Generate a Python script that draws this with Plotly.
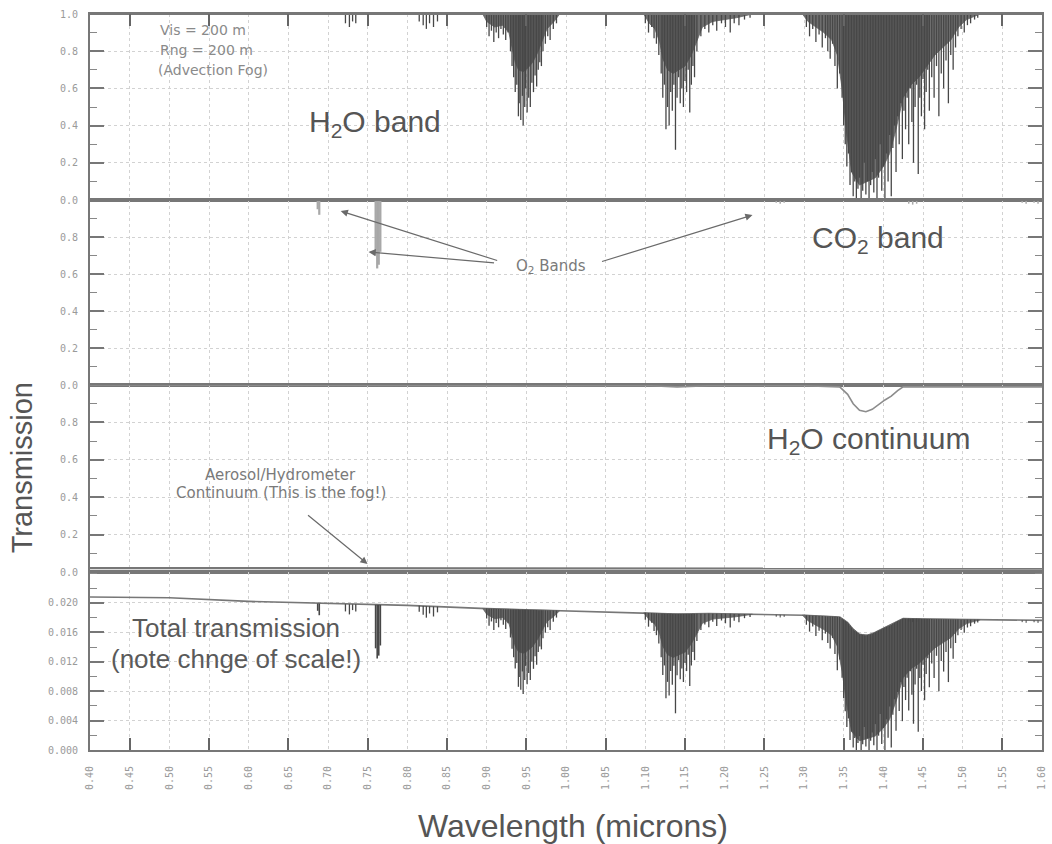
import numpy as np
import plotly.graph_objects as go

# ---------------- data ----------------
# x axis tick labels (wavelength, microns)
x_tick_vals = [round(0.40 + 0.05 * i, 2) for i in range(25)]
x_tick_text = [f"{v:.2f}" for v in x_tick_vals]
x_major_marks = [0.45, 0.55, 0.65, 0.75, 0.85, 0.95, 1.05, 1.15, 1.25, 1.35, 1.45, 1.55]

# H2O band absorption lines: centre wavelength (um) and line-core transmission
h2o_line_um = [
    0.722, 0.727, 0.731, 0.735,
    0.815, 0.820, 0.824, 0.828, 0.833, 0.838,
    0.900, 0.903, 0.906, 0.909, 0.912, 0.915, 0.918, 0.921, 0.924, 0.927,
    0.930, 0.932, 0.934, 0.936, 0.938, 0.940, 0.941, 0.943, 0.945, 0.946,
    0.948, 0.949, 0.951, 0.953, 0.955, 0.957, 0.959, 0.961, 0.963, 0.965,
    0.967, 0.969, 0.971, 0.974, 0.977, 0.980, 0.984, 0.988,
    1.100, 1.104, 1.108, 1.111, 1.114, 1.117, 1.120, 1.122, 1.124, 1.126,
    1.128, 1.130, 1.132, 1.134, 1.136, 1.138, 1.140, 1.142, 1.144, 1.146,
    1.148, 1.150, 1.152, 1.154, 1.156, 1.158, 1.160, 1.162, 1.165, 1.170,
    1.175, 1.180, 1.185, 1.190, 1.196, 1.201, 1.207, 1.212, 1.218, 1.225, 1.232,
    1.303, 1.307, 1.311, 1.315, 1.319, 1.323, 1.327, 1.330, 1.333, 1.336,
    1.339, 1.342, 1.345, 1.348, 1.350, 1.352, 1.354, 1.356, 1.358, 1.360,
    1.362, 1.364, 1.366, 1.368, 1.370, 1.372, 1.374, 1.376, 1.378, 1.380,
    1.382, 1.384, 1.386, 1.388, 1.390, 1.392, 1.394, 1.396, 1.398, 1.400,
    1.402, 1.404, 1.406, 1.408, 1.410, 1.412, 1.414, 1.416, 1.418, 1.420,
    1.422, 1.424, 1.426, 1.428, 1.430, 1.432, 1.434, 1.436, 1.438, 1.440,
    1.442, 1.444, 1.446, 1.448, 1.450, 1.452, 1.454, 1.456, 1.458, 1.461,
    1.464, 1.467, 1.470, 1.473, 1.476, 1.479, 1.482, 1.485, 1.488, 1.491,
    1.494, 1.498, 1.502, 1.506, 1.510, 1.515, 1.519,
]
h2o_line_T = [
    0.95, 0.93, 0.96, 0.95,
    0.96, 0.94, 0.92, 0.95, 0.93, 0.96,
    0.93, 0.88, 0.91, 0.85, 0.90, 0.87, 0.92, 0.89, 0.86, 0.90,
    0.80, 0.72, 0.66, 0.58, 0.62, 0.45, 0.52, 0.43, 0.56, 0.40,
    0.50, 0.60, 0.47, 0.55, 0.50, 0.63, 0.58, 0.67, 0.61, 0.70,
    0.74, 0.72, 0.80, 0.84, 0.88, 0.86, 0.92, 0.95,
    0.95, 0.90, 0.93, 0.87, 0.84, 0.78, 0.68, 0.55, 0.62, 0.38,
    0.50, 0.40, 0.58, 0.48, 0.62, 0.27, 0.55, 0.66, 0.52, 0.60,
    0.50, 0.64, 0.58, 0.70, 0.47, 0.62, 0.72, 0.66, 0.80, 0.88,
    0.92, 0.90, 0.94, 0.91, 0.95, 0.93, 0.90, 0.95, 0.94, 0.97, 0.98,
    0.93, 0.88, 0.92, 0.85, 0.89, 0.82, 0.87, 0.80, 0.76, 0.84,
    0.72, 0.60, 0.68, 0.55, 0.40, 0.30, 0.18, 0.25, 0.08, 0.15,
    0.02, 0.10, 0.00, 0.06, 0.12, 0.00, 0.05, 0.20, 0.03, 0.10,
    0.00, 0.08, 0.15, 0.04, 0.22, 0.00, 0.12, 0.30, 0.05, 0.18,
    0.00, 0.25, 0.10, 0.35, 0.02, 0.28, 0.40, 0.15, 0.45, 0.30,
    0.52, 0.22, 0.48, 0.38, 0.55, 0.30, 0.60, 0.42, 0.20, 0.50,
    0.62, 0.14, 0.55, 0.45, 0.65, 0.38, 0.58, 0.70, 0.48, 0.66,
    0.55, 0.72, 0.45, 0.68, 0.60, 0.75, 0.52, 0.78, 0.70, 0.82,
    0.88, 0.92, 0.90, 0.94, 0.95, 0.97, 0.98,
]

# dense-core envelopes of the three strong H2O bands
env_094_um = [0.895, 0.900, 0.910, 0.920, 0.928, 0.932, 0.936, 0.940, 0.946, 0.952, 0.958, 0.964, 0.970, 0.976, 0.985, 0.992]
env_094_T = [1.00, 0.96, 0.93, 0.94, 0.90, 0.82, 0.74, 0.70, 0.69, 0.71, 0.74, 0.79, 0.85, 0.92, 0.96, 1.00]
env_113_um = [1.098, 1.105, 1.112, 1.118, 1.122, 1.128, 1.135, 1.142, 1.150, 1.158, 1.165, 1.172, 1.185, 1.200, 1.215, 1.235]
env_113_T = [1.00, 0.95, 0.92, 0.85, 0.76, 0.70, 0.68, 0.70, 0.72, 0.78, 0.86, 0.93, 0.96, 0.97, 0.98, 1.00]
env_138_um = [1.298, 1.305, 1.315, 1.325, 1.335, 1.342, 1.348, 1.354, 1.360, 1.370, 1.380, 1.390, 1.400, 1.408,
              1.416, 1.425, 1.435, 1.445, 1.455, 1.465, 1.475, 1.485, 1.495, 1.505, 1.522]
env_138_T = [1.00, 0.96, 0.93, 0.90, 0.86, 0.78, 0.60, 0.35, 0.15, 0.08, 0.10, 0.12, 0.18, 0.25,
             0.38, 0.55, 0.62, 0.66, 0.72, 0.78, 0.82, 0.86, 0.93, 0.97, 1.00]

# O2 (0.69 and 0.76 um) and weak CO2 lines
o2_line_um = [0.687, 0.689, 0.760, 0.762, 0.764, 0.766]
o2_line_T = [0.95, 0.92, 0.70, 0.63, 0.65, 0.72]
co2_line_um = [1.265, 1.270, 1.275, 1.432, 1.437, 1.442, 1.575, 1.580, 1.590, 1.595]
co2_line_T = [0.985, 0.980, 0.985, 0.980, 0.975, 0.980, 0.985, 0.980, 0.985, 0.980]

# H2O continuum transmission
cont_um = [0.40, 0.60, 0.80, 0.95, 1.10, 1.14, 1.18, 1.30, 1.345, 1.355, 1.362, 1.370, 1.378,
           1.386, 1.394, 1.402, 1.410, 1.418, 1.425, 1.45, 1.50, 1.60]
cont_T = [1.000, 1.000, 0.998, 0.995, 0.997, 0.990, 0.996, 0.996, 0.990, 0.950, 0.900, 0.865, 0.857,
          0.870, 0.895, 0.920, 0.940, 0.970, 0.990, 0.990, 0.990, 0.990]

# aerosol / hydrometeor (fog) continuum transmission
aero_um = [0.40, 0.50, 0.60, 0.70, 0.80, 0.90, 1.00, 1.10, 1.20, 1.30, 1.40, 1.50, 1.60]
aero_T = [0.0208, 0.0207, 0.0202, 0.0199, 0.0197, 0.0193, 0.0190, 0.0187, 0.0186, 0.0184, 0.0181, 0.0179, 0.0178]

# ---------------- layout geometry ----------------
W, H = 1052, 844
ML, MR, MT, MB = 90, 5, 14, 94
PW, PH = W - ML - MR, H - MT - MB


def fx(xp):
    return (xp - ML) / PW


def fy(yp):
    return (H - MB - yp) / PH


b1, b2, b3 = 200, 385, 572  # panel boundaries (pixel rows)
domains = [[fy(b1), 1.0], [fy(b2), fy(b1)], [fy(b3), fy(b2)], [0.0, fy(b3)]]

INK = "#474747"
GREY = "#777777"
LIGHT = "#a8a8a8"
GRID = "#d2d2d2"
TICKC = "#9a9a9a"
FILL = "#6e6e6e"
SMALL_FONT = "DejaVu Sans, sans-serif"


def spikes(cs, ts, top):
    xs, ys = [], []
    for c, t, tp in zip(cs, ts, top):
        xs += [c, c, None]
        ys += [tp, t, None]
    return xs, ys


fig = go.Figure()

bands = [(env_094_um, env_094_T), (env_113_um, env_113_T), (env_138_um, env_138_T)]

# ---- panel 1: H2O band ----
for eu, et in bands:
    fig.add_trace(go.Scatter(x=eu, y=et, mode="lines", fill="toself", fillcolor=FILL,
                             line=dict(color="#666666", width=0.8), xaxis="x", yaxis="y",
                             hoverinfo="skip", showlegend=False))
sx, sy = spikes(h2o_line_um, h2o_line_T, [1.0] * len(h2o_line_um))
fig.add_trace(go.Scatter(x=sx, y=sy, mode="lines", line=dict(color=INK, width=1.3),
                         xaxis="x", yaxis="y", showlegend=False))
fig.add_trace(go.Scatter(x=[0.40, 1.60], y=[1.0, 1.0], mode="lines", line=dict(color=GREY, width=2),
                         xaxis="x", yaxis="y", showlegend=False))

# ---- panel 2: O2 and CO2 bands ----
sx, sy = spikes(o2_line_um, o2_line_T, [1.0] * len(o2_line_um))
fig.add_trace(go.Scatter(x=sx, y=sy, mode="lines", line=dict(color=LIGHT, width=2.2),
                         xaxis="x2", yaxis="y2", showlegend=False))
sx, sy = spikes(co2_line_um, co2_line_T, [1.0] * len(co2_line_um))
fig.add_trace(go.Scatter(x=sx, y=sy, mode="lines", line=dict(color=LIGHT, width=1.5),
                         xaxis="x2", yaxis="y2", showlegend=False))
fig.add_trace(go.Scatter(x=[0.40, 1.60], y=[1.0, 1.0], mode="lines", line=dict(color=GREY, width=2),
                         xaxis="x2", yaxis="y2", showlegend=False))

# ---- panel 3: H2O continuum and aerosol continuum ----
fig.add_trace(go.Scatter(x=cont_um, y=cont_T, mode="lines", line=dict(color="#8c8c8c", width=1.6),
                         xaxis="x3", yaxis="y3", showlegend=False))
fig.add_trace(go.Scatter(x=aero_um, y=aero_T, mode="lines", line=dict(color=GREY, width=2.2),
                         xaxis="x3", yaxis="y3", showlegend=False))


# ---- panel 4: total transmission = aerosol x continuum x bands ----
def base(lam):
    lam = np.asarray(lam, dtype=float)
    return np.interp(lam, aero_um, aero_T) * np.interp(lam, cont_um, cont_T)


base_um = sorted(set(aero_um) | set(cont_um))
fig.add_trace(go.Scatter(x=base_um, y=base(base_um), mode="lines", line=dict(color=GREY, width=1.6),
                         xaxis="x4", yaxis="y4", showlegend=False))
for eu, et in bands:
    lower = base(eu) * np.asarray(et)
    upper = base(eu)
    fig.add_trace(go.Scatter(x=list(eu) + list(eu[::-1]), y=list(lower) + list(upper[::-1]),
                             mode="lines", fill="toself", fillcolor=FILL,
                             line=dict(color="#666666", width=0.8),
                             xaxis="x4", yaxis="y4", hoverinfo="skip", showlegend=False))
for cs, ts, w in [(h2o_line_um, h2o_line_T, 1.3), (o2_line_um, o2_line_T, 1.6),
                  (co2_line_um, co2_line_T, 1.0)]:
    tops = base(cs)
    sx, sy = spikes(cs, list(tops * np.asarray(ts)), list(tops))
    fig.add_trace(go.Scatter(x=sx, y=sy, mode="lines", line=dict(color=INK, width=w),
                             xaxis="x4", yaxis="y4", showlegend=False))

# ---------------- axes ----------------
tick_font = dict(family="DejaVu Sans Mono, monospace", size=10, color=TICKC)


def xaxis_cfg(anchor, show_labels, side="bottom", marks=True):
    cfg = dict(domain=[0, 1], anchor=anchor, range=[0.40, 1.60], side=side,
               tickmode="array", tickvals=x_tick_vals, ticktext=x_tick_text,
               showticklabels=show_labels, ticks="", tickangle=-90, tickfont=tick_font,
               ticklabelstandoff=10,
               showgrid=True, gridcolor=GRID, griddash="dot", gridwidth=1,
               showline=True, linecolor=GREY, linewidth=2, zeroline=False, mirror=True)
    if marks:
        cfg["minor"] = dict(tickmode="array", tickvals=x_major_marks, ticks="inside", ticklen=12,
                            tickwidth=1.5, tickcolor="#666666", showgrid=False)
    return cfg


def yaxis_cfg(anchor, dom, rng, vals, texts, minor_dtick, ticklen=14):
    return dict(domain=dom, anchor=anchor, range=rng, tickmode="array", tickvals=vals, ticktext=texts,
                ticks="inside", ticklen=ticklen, tickwidth=1.5, tickcolor="#777777", tickfont=tick_font,
                ticklabelstandoff=8,
                minor=dict(dtick=minor_dtick, tick0=0, ticks="inside", ticklen=7, tickwidth=1.2,
                           tickcolor="#888888", showgrid=False),
                showgrid=True, gridcolor=GRID, griddash="dot", gridwidth=1,
                showline=True, linecolor=GREY, linewidth=2, zeroline=False, mirror="ticks")


v1 = [0.0, 0.2, 0.4, 0.6, 0.8, 1.0]
v2 = [0.0, 0.2, 0.4, 0.6, 0.8]
v4 = [0.0, 0.004, 0.008, 0.012, 0.016, 0.020]

fig.update_layout(
    width=W, height=H, margin=dict(l=ML, r=MR, t=MT, b=MB),
    paper_bgcolor="white", plot_bgcolor="white", showlegend=False,
    font=dict(family="Liberation Sans, Arial, sans-serif", color="#555555"),
    xaxis=xaxis_cfg("y", False, side="top"),
    xaxis2=dict(xaxis_cfg("y2", False, marks=False), matches="x"),
    xaxis3=dict(xaxis_cfg("y3", False, marks=False), matches="x"),
    xaxis4=dict(xaxis_cfg("y4", True), matches="x"),
    yaxis=yaxis_cfg("x", domains[0], [0, 1.0], v1, [f"{v:.1f}" for v in v1], 0.1),
    yaxis2=yaxis_cfg("x2", domains[1], [0, 1.0], v2, [f"{v:.1f}" for v in v2], 0.1),
    yaxis3=yaxis_cfg("x3", domains[2], [0, 1.0], v2, [f"{v:.1f}" for v in v2], 0.1),
    yaxis4=yaxis_cfg("x4", domains[3], [0, 0.0242], v4, [f"{v:.3f}" for v in v4], 0.002),
)

# ---------------- text ----------------
ann = []


def label(text, xp, yp, size, color="#555555", xanchor="left", family=None):
    f = dict(size=size, color=color)
    if family:
        f["family"] = family
    ann.append(dict(text=text, x=fx(xp), y=fy(yp), xref="paper", yref="paper", showarrow=False,
                    xanchor=xanchor, yanchor="middle", font=f))


def arrow(x_head, y_head, x_tail, y_tail):
    ann.append(dict(text="", x=fx(x_head), y=fy(y_head), xref="paper", yref="paper",
                    ax=x_tail - x_head, ay=y_tail - y_head, showarrow=True, arrowhead=2,
                    arrowsize=1.2, arrowwidth=1.2, arrowcolor="#6a6a6a"))


label("Vis = 200 m", 158, 30, 14, "#8a8a8a", family=SMALL_FONT)
label("Rng = 200 m", 158, 50, 14, "#8a8a8a", family=SMALL_FONT)
label("(Advection Fog)", 156, 70, 14, "#8a8a8a", family=SMALL_FONT)
label("H<sub>2</sub>O band", 308, 123, 30)
label("CO<sub>2</sub> band", 814, 240, 30)
label("O<sub>2</sub> Bands", 516, 266, 15, "#7a7a7a", family=SMALL_FONT)
label("H<sub>2</sub>O continuum", 769, 440, 30)
label("Aerosol/Hydrometer", 282, 475, 15, "#7a7a7a", "center", family=SMALL_FONT)
label("Continuum (This is the fog!)", 282, 493, 15, "#7a7a7a", "center", family=SMALL_FONT)
label("Total transmission", 237, 628, 26, "#5a5a5a", "center")
label("(note chnge of scale!)", 237, 659, 26, "#5a5a5a", "center")

arrow(342, 211, 500, 261)
arrow(370, 252, 497, 263)
arrow(756, 215, 604, 262)
arrow(369, 564, 308, 514)

ann.append(dict(text="Transmission", x=fx(22), y=fy(468), xref="paper", yref="paper", showarrow=False,
                textangle=-90, xanchor="center", yanchor="middle", font=dict(size=29, color="#555555")))
ann.append(dict(text="Wavelength (microns)", x=fx(576), y=fy(826), xref="paper", yref="paper",
                showarrow=False, xanchor="center", yanchor="middle", font=dict(size=32, color="#555555")))

fig.update_layout(annotations=ann)

fig.write_html("out.html")
